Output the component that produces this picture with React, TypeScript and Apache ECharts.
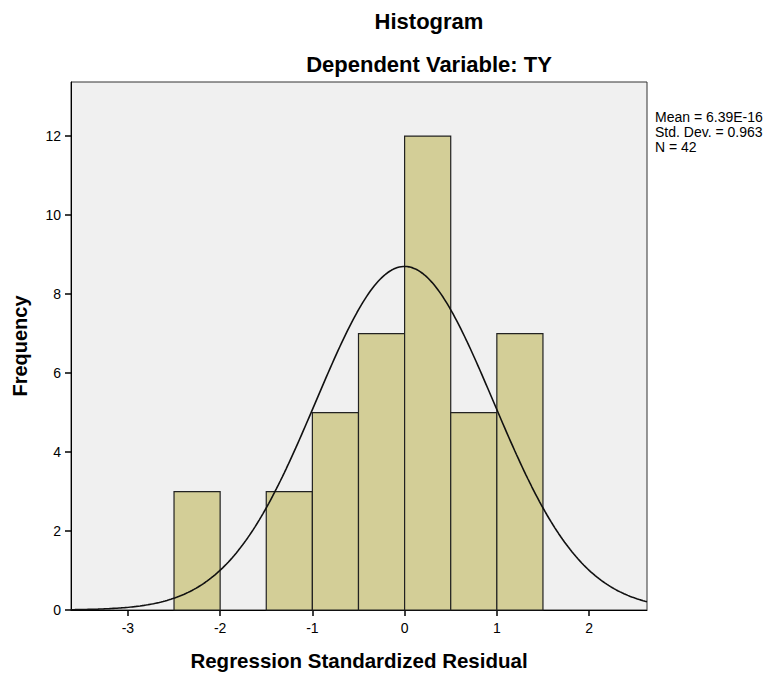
import React, { useEffect, useRef } from "react";
import * as echarts from "echarts";

// Histogram bins (lower edge, upper edge) and frequencies
const binStarts = [-2.5, -1.5, -1.0, -0.5, 0.0, 0.5, 1.0];
const binEnds = [-2.0, -1.0, -0.5, 0.0, 0.5, 1.0, 1.5];
const frequencies = [3, 3, 5, 7, 12, 5, 7];

const xTicks = [-3, -2, -1, 0, 1, 2];
const yTicks = [0, 2, 4, 6, 8, 10, 12];

// Summary statistics shown in the legend; the normal curve is defined by them
const MEAN = 6.39e-16;
const STD_DEV = 0.963;
const N = 42;
const BIN_WIDTH = 0.5;
const statLines = ["Mean = 6.39E-16", "Std. Dev. = 0.963", "N = 42"];

const X_MIN = -3.617;
const X_MAX = 2.628;
const Y_MAX = 13.37;

function normalCurve(): number[][] {
  const pts: number[][] = [];
  const steps = 300;
  for (let i = 0; i <= steps; i++) {
    const x = X_MIN + ((X_MAX - X_MIN) * i) / steps;
    const z = (x - MEAN) / STD_DEV;
    const y = (N * BIN_WIDTH * Math.exp(-0.5 * z * z)) / (STD_DEV * Math.sqrt(2 * Math.PI));
    pts.push([x, y]);
  }
  return pts;
}

export default function App() {
  const ref = useRef<HTMLDivElement>(null);
  useEffect(() => {
    if (!ref.current) return;
    const chart = echarts.init(ref.current, null, { renderer: "svg" });
    const font = "'Liberation Sans', Arial, sans-serif";
    const barData = binStarts.map((s, i) => [s, binEnds[i], frequencies[i]]);
    chart.setOption({
      animation: false,
      backgroundColor: "#ffffff",
      textStyle: { fontFamily: font },
      title: [
        {
          text: "Histogram",
          left: 424,
          top: 5,
          textAlign: "center",
          textStyle: { fontFamily: font, fontSize: 22, fontWeight: "bold", color: "#000" },
        },
        {
          text: "Dependent Variable: TY",
          left: 424,
          top: 48,
          textAlign: "center",
          textStyle: { fontFamily: font, fontSize: 22, fontWeight: "bold", color: "#000" },
        },
      ],
      grid: {
        left: 71,
        top: 82,
        width: 576,
        height: 528,
        show: true,
        backgroundColor: "#F0F0F0",
        borderColor: "#333",
        borderWidth: 1,
      },
      xAxis: {
        type: "value",
        min: X_MIN,
        max: X_MAX,
        name: "Regression Standardized Residual",
        nameLocation: "middle",
        nameGap: 40,
        nameTextStyle: { fontFamily: font, fontSize: 20.5, fontWeight: "bold", color: "#000" },
        axisLine: { show: true, onZero: false, lineStyle: { color: "#000", width: 1 } },
        axisTick: { show: true, customValues: xTicks, length: 6, lineStyle: { color: "#000", width: 1.5 } },
        axisLabel: { customValues: xTicks, fontSize: 14, color: "#000", margin: 11, fontFamily: font },
        splitLine: { show: false },
      },
      yAxis: {
        type: "value",
        min: 0,
        max: Y_MAX,
        name: "Frequency",
        nameLocation: "middle",
        nameGap: 41,
        nameRotate: 90,
        nameTextStyle: { fontFamily: font, fontSize: 20, fontWeight: "bold", color: "#000" },
        axisLine: { show: true, onZero: false, lineStyle: { color: "#000", width: 1 } },
        axisTick: { show: true, customValues: yTicks, length: 6, lineStyle: { color: "#000", width: 1.5 } },
        axisLabel: { customValues: yTicks, fontSize: 14, color: "#000", margin: 10, fontFamily: font },
        splitLine: { show: false },
      },
      graphic: statLines.map((t, i) => ({
        type: "text",
        left: 655,
        top: 110 + i * 15,
        style: { text: t, fontSize: 14, fontFamily: font, fill: "#000" },
      })),
      series: [
        {
          type: "custom",
          data: barData,
          encode: { x: [0, 1], y: 2 },
          renderItem: (params: any, api: any) => {
            const p0 = api.coord([api.value(0), api.value(2)]);
            const p1 = api.coord([api.value(1), 0]);
            return {
              type: "rect",
              shape: { x: p0[0], y: p0[1], width: p1[0] - p0[0], height: p1[1] - p0[1] },
              style: { fill: "#D3CE97", stroke: "#222", lineWidth: 1.2 },
            };
          },
          z: 2,
        },
        {
          type: "line",
          data: normalCurve(),
          showSymbol: false,
          symbol: "none",
          lineStyle: { color: "#111", width: 1.6 },
          z: 3,
          silent: true,
        },
      ],
    });
    return () => chart.dispose();
  }, []);
  return (
    <div
      ref={ref}
      style={{ position: "fixed", left: 0, top: 0, width: 775, height: 677 }}
    />
  );
}
